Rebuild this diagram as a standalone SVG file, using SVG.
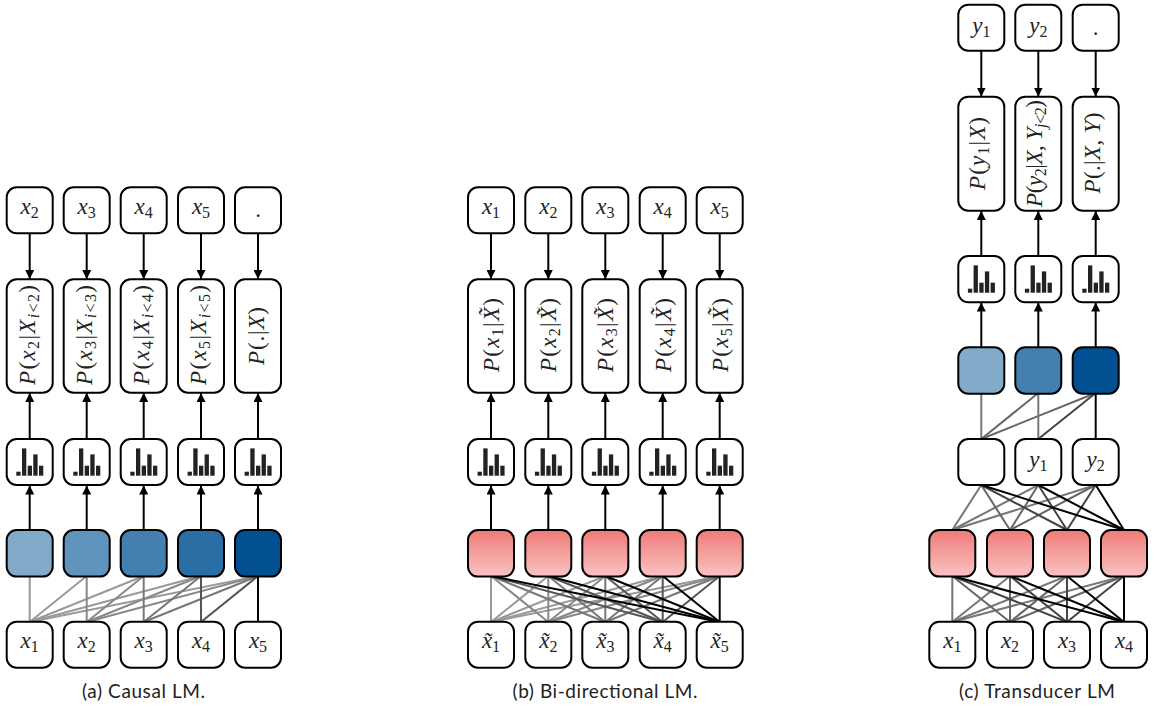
<svg xmlns="http://www.w3.org/2000/svg" width="1155" height="710" viewBox="0 0 1155 710">
<style>
.b{fill:#fff;stroke:#000;stroke-width:2}
.m{font-family:"Liberation Serif",serif;font-size:23px;fill:#222;text-anchor:middle}
.i{font-style:italic}
.s{font-size:16px}
.cap{font-family:"Lato",sans-serif;font-size:19px;fill:#222;text-anchor:middle}
.a{stroke:#000;fill:none}
#conn line{stroke-width:2}
.g1{stroke:#999}.g2{stroke:#888}.g3{stroke:#777}.g4{stroke:#555}.g5{stroke:#000}
.h1{stroke:#777}.h2{stroke:#666}.h3{stroke:#444}.h4{stroke:#000}
</style>
<defs>
<linearGradient id="red" x1="0" y1="0" x2="0" y2="1"><stop offset="0" stop-color="#ef7b78"/><stop offset="1" stop-color="#f9c4c3"/></linearGradient>
<marker id="ar" viewBox="0 0 8 8" refX="8" refY="4" markerWidth="9" markerHeight="9" markerUnits="userSpaceOnUse" orient="auto"><path d="M0,0L8,4L0,8Z" fill="#000"/></marker>
<g id="hist" fill="#222"><rect x="-13.4" y="32.7" width="4.3" height="4"/><rect x="-7.7" y="9.4" width="4.3" height="27.3"/><rect x="-2" y="26.7" width="4.3" height="10"/><rect x="3.6" y="15.4" width="4.3" height="21.3"/><rect x="9.3" y="26.7" width="4.3" height="10"/></g>
</defs>
<g id="conn">
<g class="g1"><line x1="29.7" y1="622" x2="29.7" y2="576"/><line x1="29.7" y1="622" x2="86.7" y2="576"/><line x1="29.7" y1="622" x2="143.7" y2="576"/><line x1="29.7" y1="622" x2="201" y2="576"/><line x1="29.7" y1="622" x2="258" y2="576"/></g>
<g class="g2"><line x1="86.7" y1="622" x2="86.7" y2="576"/><line x1="86.7" y1="622" x2="143.7" y2="576"/><line x1="86.7" y1="622" x2="201" y2="576"/><line x1="86.7" y1="622" x2="258" y2="576"/></g>
<g class="g3"><line x1="143.7" y1="622" x2="143.7" y2="576"/><line x1="143.7" y1="622" x2="201" y2="576"/><line x1="143.7" y1="622" x2="258" y2="576"/></g>
<g class="g4"><line x1="201" y1="622" x2="201" y2="576"/><line x1="201" y1="622" x2="258" y2="576"/></g>
<g class="g5"><line x1="258" y1="622" x2="258" y2="576"/></g>
<g class="a"><line x1="29.7" y1="530" x2="29.7" y2="485.5" marker-end="url(#ar)"/><line x1="86.7" y1="530" x2="86.7" y2="485.5" marker-end="url(#ar)"/><line x1="143.7" y1="530" x2="143.7" y2="485.5" marker-end="url(#ar)"/><line x1="201" y1="530" x2="201" y2="485.5" marker-end="url(#ar)"/><line x1="258" y1="530" x2="258" y2="485.5" marker-end="url(#ar)"/>
<line x1="29.7" y1="439" x2="29.7" y2="393" marker-end="url(#ar)"/><line x1="86.7" y1="439" x2="86.7" y2="393" marker-end="url(#ar)"/><line x1="143.7" y1="439" x2="143.7" y2="393" marker-end="url(#ar)"/><line x1="201" y1="439" x2="201" y2="393" marker-end="url(#ar)"/><line x1="258" y1="439" x2="258" y2="393" marker-end="url(#ar)"/>
<line x1="29.7" y1="233" x2="29.7" y2="279" marker-end="url(#ar)"/><line x1="86.7" y1="233" x2="86.7" y2="279" marker-end="url(#ar)"/><line x1="143.7" y1="233" x2="143.7" y2="279" marker-end="url(#ar)"/><line x1="201" y1="233" x2="201" y2="279" marker-end="url(#ar)"/><line x1="258" y1="233" x2="258" y2="279" marker-end="url(#ar)"/></g>
<g class="g1"><line x1="491" y1="622" x2="491" y2="576"/><line x1="491" y1="622" x2="548.3" y2="576"/><line x1="491" y1="622" x2="605.3" y2="576"/><line x1="491" y1="622" x2="662.7" y2="576"/><line x1="491" y1="622" x2="719.7" y2="576"/></g>
<g class="g2"><line x1="548.3" y1="622" x2="491" y2="576"/><line x1="548.3" y1="622" x2="548.3" y2="576"/><line x1="548.3" y1="622" x2="605.3" y2="576"/><line x1="548.3" y1="622" x2="662.7" y2="576"/><line x1="548.3" y1="622" x2="719.7" y2="576"/></g>
<g class="g3"><line x1="605.3" y1="622" x2="491" y2="576"/><line x1="605.3" y1="622" x2="548.3" y2="576"/><line x1="605.3" y1="622" x2="605.3" y2="576"/><line x1="605.3" y1="622" x2="662.7" y2="576"/><line x1="605.3" y1="622" x2="719.7" y2="576"/></g>
<g class="g4"><line x1="662.7" y1="622" x2="491" y2="576"/><line x1="662.7" y1="622" x2="548.3" y2="576"/><line x1="662.7" y1="622" x2="605.3" y2="576"/><line x1="662.7" y1="622" x2="662.7" y2="576"/><line x1="662.7" y1="622" x2="719.7" y2="576"/></g>
<g class="g5"><line x1="719.7" y1="622" x2="491" y2="576"/><line x1="719.7" y1="622" x2="548.3" y2="576"/><line x1="719.7" y1="622" x2="605.3" y2="576"/><line x1="719.7" y1="622" x2="662.7" y2="576"/><line x1="719.7" y1="622" x2="719.7" y2="576"/></g>
<g class="a"><line x1="491" y1="530" x2="491" y2="485.5" marker-end="url(#ar)"/><line x1="548.3" y1="530" x2="548.3" y2="485.5" marker-end="url(#ar)"/><line x1="605.3" y1="530" x2="605.3" y2="485.5" marker-end="url(#ar)"/><line x1="662.7" y1="530" x2="662.7" y2="485.5" marker-end="url(#ar)"/><line x1="719.7" y1="530" x2="719.7" y2="485.5" marker-end="url(#ar)"/>
<line x1="491" y1="439" x2="491" y2="393" marker-end="url(#ar)"/><line x1="548.3" y1="439" x2="548.3" y2="393" marker-end="url(#ar)"/><line x1="605.3" y1="439" x2="605.3" y2="393" marker-end="url(#ar)"/><line x1="662.7" y1="439" x2="662.7" y2="393" marker-end="url(#ar)"/><line x1="719.7" y1="439" x2="719.7" y2="393" marker-end="url(#ar)"/>
<line x1="491" y1="233" x2="491" y2="279" marker-end="url(#ar)"/><line x1="548.3" y1="233" x2="548.3" y2="279" marker-end="url(#ar)"/><line x1="605.3" y1="233" x2="605.3" y2="279" marker-end="url(#ar)"/><line x1="662.7" y1="233" x2="662.7" y2="279" marker-end="url(#ar)"/><line x1="719.7" y1="233" x2="719.7" y2="279" marker-end="url(#ar)"/></g>
<g class="h1"><line x1="952.3" y1="622" x2="952.3" y2="576"/><line x1="952.3" y1="622" x2="1010" y2="576"/><line x1="952.3" y1="622" x2="1067" y2="576"/><line x1="952.3" y1="622" x2="1124" y2="576"/></g>
<g class="h2"><line x1="1010" y1="622" x2="952.3" y2="576"/><line x1="1010" y1="622" x2="1010" y2="576"/><line x1="1010" y1="622" x2="1067" y2="576"/><line x1="1010" y1="622" x2="1124" y2="576"/></g>
<g class="h3"><line x1="1067" y1="622" x2="952.3" y2="576"/><line x1="1067" y1="622" x2="1010" y2="576"/><line x1="1067" y1="622" x2="1067" y2="576"/><line x1="1067" y1="622" x2="1124" y2="576"/></g>
<g class="h4"><line x1="1124" y1="622" x2="952.3" y2="576"/><line x1="1124" y1="622" x2="1010" y2="576"/><line x1="1124" y1="622" x2="1067" y2="576"/><line x1="1124" y1="622" x2="1124" y2="576"/></g>
<g class="h1"><line x1="952.3" y1="530" x2="981.3" y2="485"/><line x1="952.3" y1="530" x2="1038.3" y2="485"/><line x1="952.3" y1="530" x2="1095.7" y2="485"/></g>
<g class="h2"><line x1="1010" y1="530" x2="981.3" y2="485"/><line x1="1010" y1="530" x2="1038.3" y2="485"/><line x1="1010" y1="530" x2="1095.7" y2="485"/></g>
<g class="h3"><line x1="1067" y1="530" x2="981.3" y2="485"/><line x1="1067" y1="530" x2="1038.3" y2="485"/><line x1="1067" y1="530" x2="1095.7" y2="485"/></g>
<g class="h4"><line x1="1124" y1="530" x2="981.3" y2="485"/><line x1="1124" y1="530" x2="1038.3" y2="485"/><line x1="1124" y1="530" x2="1095.7" y2="485"/></g>
<g class="h1"><line x1="981.3" y1="439" x2="981.3" y2="393"/></g>
<g class="h2"><line x1="981.3" y1="439" x2="1038.3" y2="393"/><line x1="981.3" y1="439" x2="1095.7" y2="393"/></g>
<g class="h1"><line x1="1038.3" y1="439" x2="1038.3" y2="393"/></g>
<g class="h3"><line x1="1038.3" y1="439" x2="1095.7" y2="393"/></g>
<g class="h4"><line x1="1095.7" y1="439" x2="1095.7" y2="393"/></g>
<g class="a"><line x1="981.3" y1="347.5" x2="981.3" y2="302.5" marker-end="url(#ar)"/><line x1="1038.3" y1="347.5" x2="1038.3" y2="302.5" marker-end="url(#ar)"/><line x1="1095.7" y1="347.5" x2="1095.7" y2="302.5" marker-end="url(#ar)"/>
<line x1="981.3" y1="256" x2="981.3" y2="211" marker-end="url(#ar)"/><line x1="1038.3" y1="256" x2="1038.3" y2="211" marker-end="url(#ar)"/><line x1="1095.7" y1="256" x2="1095.7" y2="211" marker-end="url(#ar)"/>
<line x1="981.3" y1="50.5" x2="981.3" y2="96.5" marker-end="url(#ar)"/><line x1="1038.3" y1="50.5" x2="1038.3" y2="96.5" marker-end="url(#ar)"/><line x1="1095.7" y1="50.5" x2="1095.7" y2="96.5" marker-end="url(#ar)"/></g>
</g>
<g id="a-out1"><rect class="b" x="6.7" y="187.3" width="46" height="46" rx="10"/><text class="m" x="29.7" y="214"><tspan class="i">x</tspan><tspan class="s" dy="4">2</tspan></text></g>
<g id="a-out2"><rect class="b" x="63.7" y="187.3" width="46" height="46" rx="10"/><text class="m" x="86.7" y="214"><tspan class="i">x</tspan><tspan class="s" dy="4">3</tspan></text></g>
<g id="a-out3"><rect class="b" x="120.7" y="187.3" width="46" height="46" rx="10"/><text class="m" x="143.7" y="214"><tspan class="i">x</tspan><tspan class="s" dy="4">4</tspan></text></g>
<g id="a-out4"><rect class="b" x="178" y="187.3" width="46" height="46" rx="10"/><text class="m" x="201" y="214"><tspan class="i">x</tspan><tspan class="s" dy="4">5</tspan></text></g>
<g id="a-out5"><rect class="b" x="235" y="187.3" width="46" height="46" rx="10"/><text class="m" x="258" y="217">.</text></g>
<g id="a-p1"><rect class="b" x="6.7" y="279.3" width="46" height="113.4" rx="10"/><text class="m" transform="translate(35,335) rotate(-90)" textLength="100"><tspan class="i">P</tspan>(<tspan class="i">x</tspan><tspan class="s" dy="4">2</tspan><tspan dy="-4">|</tspan><tspan class="i">X</tspan><tspan class="s i" dy="4">i</tspan><tspan class="s">&lt;2</tspan><tspan dy="-4">)</tspan></text></g>
<g id="a-p2"><rect class="b" x="63.7" y="279.3" width="46" height="113.4" rx="10"/><text class="m" transform="translate(92,335) rotate(-90)" textLength="100"><tspan class="i">P</tspan>(<tspan class="i">x</tspan><tspan class="s" dy="4">3</tspan><tspan dy="-4">|</tspan><tspan class="i">X</tspan><tspan class="s i" dy="4">i</tspan><tspan class="s">&lt;3</tspan><tspan dy="-4">)</tspan></text></g>
<g id="a-p3"><rect class="b" x="120.7" y="279.3" width="46" height="113.4" rx="10"/><text class="m" transform="translate(149,335) rotate(-90)" textLength="100"><tspan class="i">P</tspan>(<tspan class="i">x</tspan><tspan class="s" dy="4">4</tspan><tspan dy="-4">|</tspan><tspan class="i">X</tspan><tspan class="s i" dy="4">i</tspan><tspan class="s">&lt;4</tspan><tspan dy="-4">)</tspan></text></g>
<g id="a-p4"><rect class="b" x="178" y="279.3" width="46" height="113.4" rx="10"/><text class="m" transform="translate(206.3,335) rotate(-90)" textLength="100"><tspan class="i">P</tspan>(<tspan class="i">x</tspan><tspan class="s" dy="4">5</tspan><tspan dy="-4">|</tspan><tspan class="i">X</tspan><tspan class="s i" dy="4">i</tspan><tspan class="s">&lt;5</tspan><tspan dy="-4">)</tspan></text></g>
<g id="a-p5"><rect class="b" x="235" y="279.3" width="46" height="113.4" rx="10"/><text class="m" transform="translate(263.5,336) rotate(-90)" textLength="58"><tspan class="i">P</tspan>(.|<tspan class="i">X</tspan>)</text></g>
<g id="a-h1"><rect class="b" x="6.7" y="439" width="46" height="46" rx="10"/><use href="#hist" x="29.7" y="439"/></g>
<g id="a-h2"><rect class="b" x="63.7" y="439" width="46" height="46" rx="10"/><use href="#hist" x="86.7" y="439"/></g>
<g id="a-h3"><rect class="b" x="120.7" y="439" width="46" height="46" rx="10"/><use href="#hist" x="143.7" y="439"/></g>
<g id="a-h4"><rect class="b" x="178" y="439" width="46" height="46" rx="10"/><use href="#hist" x="201" y="439"/></g>
<g id="a-h5"><rect class="b" x="235" y="439" width="46" height="46" rx="10"/><use href="#hist" x="258" y="439"/></g>
<g id="a-c1"><rect class="b" style="fill:#82abc9" x="6.7" y="530" width="46" height="46.6" rx="10"/></g>
<g id="a-c2"><rect class="b" style="fill:#5f94bd" x="63.7" y="530" width="46" height="46.6" rx="10"/></g>
<g id="a-c3"><rect class="b" style="fill:#447fb0" x="120.7" y="530" width="46" height="46.6" rx="10"/></g>
<g id="a-c4"><rect class="b" style="fill:#2b6da5" x="178" y="530" width="46" height="46.6" rx="10"/></g>
<g id="a-c5"><rect class="b" style="fill:#024f91" x="235" y="530" width="46" height="46.6" rx="10"/></g>
<g id="a-in1"><rect class="b" x="6.7" y="621.7" width="46" height="46" rx="10"/><text class="m" x="29.7" y="648"><tspan class="i">x</tspan><tspan class="s" dy="4">1</tspan></text></g>
<g id="a-in2"><rect class="b" x="63.7" y="621.7" width="46" height="46" rx="10"/><text class="m" x="86.7" y="648"><tspan class="i">x</tspan><tspan class="s" dy="4">2</tspan></text></g>
<g id="a-in3"><rect class="b" x="120.7" y="621.7" width="46" height="46" rx="10"/><text class="m" x="143.7" y="648"><tspan class="i">x</tspan><tspan class="s" dy="4">3</tspan></text></g>
<g id="a-in4"><rect class="b" x="178" y="621.7" width="46" height="46" rx="10"/><text class="m" x="201" y="648"><tspan class="i">x</tspan><tspan class="s" dy="4">4</tspan></text></g>
<g id="a-in5"><rect class="b" x="235" y="621.7" width="46" height="46" rx="10"/><text class="m" x="258" y="648"><tspan class="i">x</tspan><tspan class="s" dy="4">5</tspan></text></g>
<text class="cap" x="143.5" y="698" textLength="123">(a) Causal LM.</text>
<g id="b-out1"><rect class="b" x="468" y="187.3" width="46" height="46" rx="10"/><text class="m" x="491" y="214"><tspan class="i">x</tspan><tspan class="s" dy="4">1</tspan></text></g>
<g id="b-out2"><rect class="b" x="525.3" y="187.3" width="46" height="46" rx="10"/><text class="m" x="548.3" y="214"><tspan class="i">x</tspan><tspan class="s" dy="4">2</tspan></text></g>
<g id="b-out3"><rect class="b" x="582.3" y="187.3" width="46" height="46" rx="10"/><text class="m" x="605.3" y="214"><tspan class="i">x</tspan><tspan class="s" dy="4">3</tspan></text></g>
<g id="b-out4"><rect class="b" x="639.7" y="187.3" width="46" height="46" rx="10"/><text class="m" x="662.7" y="214"><tspan class="i">x</tspan><tspan class="s" dy="4">4</tspan></text></g>
<g id="b-out5"><rect class="b" x="696.7" y="187.3" width="46" height="46" rx="10"/><text class="m" x="719.7" y="214"><tspan class="i">x</tspan><tspan class="s" dy="4">5</tspan></text></g>
<g id="b-p1"><rect class="b" x="468" y="279.3" width="46" height="113.4" rx="10"/><text class="m" transform="translate(499,335) rotate(-90)" textLength="74"><tspan class="i">P</tspan>(<tspan class="i">x</tspan><tspan class="s" dy="4">1</tspan><tspan dy="-4">|</tspan><tspan class="i">X̃</tspan>)</text></g>
<g id="b-p2"><rect class="b" x="525.3" y="279.3" width="46" height="113.4" rx="10"/><text class="m" transform="translate(556.3,335) rotate(-90)" textLength="74"><tspan class="i">P</tspan>(<tspan class="i">x</tspan><tspan class="s" dy="4">2</tspan><tspan dy="-4">|</tspan><tspan class="i">X̃</tspan>)</text></g>
<g id="b-p3"><rect class="b" x="582.3" y="279.3" width="46" height="113.4" rx="10"/><text class="m" transform="translate(613.3,335) rotate(-90)" textLength="74"><tspan class="i">P</tspan>(<tspan class="i">x</tspan><tspan class="s" dy="4">3</tspan><tspan dy="-4">|</tspan><tspan class="i">X̃</tspan>)</text></g>
<g id="b-p4"><rect class="b" x="639.7" y="279.3" width="46" height="113.4" rx="10"/><text class="m" transform="translate(670.7,335) rotate(-90)" textLength="74"><tspan class="i">P</tspan>(<tspan class="i">x</tspan><tspan class="s" dy="4">4</tspan><tspan dy="-4">|</tspan><tspan class="i">X̃</tspan>)</text></g>
<g id="b-p5"><rect class="b" x="696.7" y="279.3" width="46" height="113.4" rx="10"/><text class="m" transform="translate(727.7,335) rotate(-90)" textLength="74"><tspan class="i">P</tspan>(<tspan class="i">x</tspan><tspan class="s" dy="4">5</tspan><tspan dy="-4">|</tspan><tspan class="i">X̃</tspan>)</text></g>
<g id="b-h1"><rect class="b" x="468" y="439" width="46" height="46" rx="10"/><use href="#hist" x="491" y="439"/></g>
<g id="b-h2"><rect class="b" x="525.3" y="439" width="46" height="46" rx="10"/><use href="#hist" x="548.3" y="439"/></g>
<g id="b-h3"><rect class="b" x="582.3" y="439" width="46" height="46" rx="10"/><use href="#hist" x="605.3" y="439"/></g>
<g id="b-h4"><rect class="b" x="639.7" y="439" width="46" height="46" rx="10"/><use href="#hist" x="662.7" y="439"/></g>
<g id="b-h5"><rect class="b" x="696.7" y="439" width="46" height="46" rx="10"/><use href="#hist" x="719.7" y="439"/></g>
<g id="b-c1"><rect class="b" style="fill:url(#red)" x="468" y="530" width="46" height="46.6" rx="10"/></g>
<g id="b-c2"><rect class="b" style="fill:url(#red)" x="525.3" y="530" width="46" height="46.6" rx="10"/></g>
<g id="b-c3"><rect class="b" style="fill:url(#red)" x="582.3" y="530" width="46" height="46.6" rx="10"/></g>
<g id="b-c4"><rect class="b" style="fill:url(#red)" x="639.7" y="530" width="46" height="46.6" rx="10"/></g>
<g id="b-c5"><rect class="b" style="fill:url(#red)" x="696.7" y="530" width="46" height="46.6" rx="10"/></g>
<g id="b-in1"><rect class="b" x="468" y="621.7" width="46" height="46" rx="10"/><text class="m" x="491" y="648"><tspan class="i">x̃</tspan><tspan class="s" dy="4">1</tspan></text></g>
<g id="b-in2"><rect class="b" x="525.3" y="621.7" width="46" height="46" rx="10"/><text class="m" x="548.3" y="648"><tspan class="i">x̃</tspan><tspan class="s" dy="4">2</tspan></text></g>
<g id="b-in3"><rect class="b" x="582.3" y="621.7" width="46" height="46" rx="10"/><text class="m" x="605.3" y="648"><tspan class="i">x̃</tspan><tspan class="s" dy="4">3</tspan></text></g>
<g id="b-in4"><rect class="b" x="639.7" y="621.7" width="46" height="46" rx="10"/><text class="m" x="662.7" y="648"><tspan class="i">x̃</tspan><tspan class="s" dy="4">4</tspan></text></g>
<g id="b-in5"><rect class="b" x="696.7" y="621.7" width="46" height="46" rx="10"/><text class="m" x="719.7" y="648"><tspan class="i">x̃</tspan><tspan class="s" dy="4">5</tspan></text></g>
<text class="cap" x="605" y="698" textLength="185">(b) Bi-directional LM.</text>
<g id="c-out1"><rect class="b" x="958.3" y="4.7" width="46" height="46" rx="10"/><text class="m" x="981.3" y="33"><tspan class="i">y</tspan><tspan class="s" dy="4">1</tspan></text></g>
<g id="c-out2"><rect class="b" x="1015.3" y="4.7" width="46" height="46" rx="10"/><text class="m" x="1038.3" y="33"><tspan class="i">y</tspan><tspan class="s" dy="4">2</tspan></text></g>
<g id="c-out3"><rect class="b" x="1072.7" y="4.7" width="46" height="46" rx="10"/><text class="m" x="1095.7" y="35">.</text></g>
<g id="c-p1"><rect class="b" x="958.3" y="96.7" width="46" height="114" rx="10"/><text class="m" transform="translate(985,153.5) rotate(-90)" textLength="73"><tspan class="i">P</tspan>(<tspan class="i">y</tspan><tspan class="s" dy="4">1</tspan><tspan dy="-4">|</tspan><tspan class="i">X</tspan>)</text></g>
<g id="c-p2"><rect class="b" x="1015.3" y="96.7" width="46" height="114" rx="10"/><text class="m" transform="translate(1042,153.5) rotate(-90)" textLength="107"><tspan class="i">P</tspan>(<tspan class="i">y</tspan><tspan class="s" dy="4">2</tspan><tspan dy="-4">|</tspan><tspan class="i">X</tspan>, <tspan class="i">Y</tspan><tspan class="s i" dy="4">j</tspan><tspan class="s">&lt;2</tspan><tspan dy="-4">)</tspan></text></g>
<g id="c-p3"><rect class="b" x="1072.7" y="96.7" width="46" height="114" rx="10"/><text class="m" transform="translate(1099.5,153) rotate(-90)" textLength="81"><tspan class="i">P</tspan>(.|<tspan class="i">X</tspan>, <tspan class="i">Y</tspan>)</text></g>
<g id="c-h1"><rect class="b" x="958.3" y="256" width="46" height="46.3" rx="10"/><use href="#hist" x="981.3" y="256"/></g>
<g id="c-h2"><rect class="b" x="1015.3" y="256" width="46" height="46.3" rx="10"/><use href="#hist" x="1038.3" y="256"/></g>
<g id="c-h3"><rect class="b" x="1072.7" y="256" width="46" height="46.3" rx="10"/><use href="#hist" x="1095.7" y="256"/></g>
<g id="c-b1"><rect class="b" style="fill:#82abc9" x="958.3" y="347.3" width="46" height="46.4" rx="10"/></g>
<g id="c-b2"><rect class="b" style="fill:#447fb0" x="1015.3" y="347.3" width="46" height="46.4" rx="10"/></g>
<g id="c-b3"><rect class="b" style="fill:#024f91" x="1072.7" y="347.3" width="46" height="46.4" rx="10"/></g>
<g id="c-m1"><rect class="b" x="958.3" y="439" width="46" height="46" rx="10"/></g>
<g id="c-m2"><rect class="b" x="1015.3" y="439" width="46" height="46" rx="10"/><text class="m" x="1038.3" y="466.5"><tspan class="i">y</tspan><tspan class="s" dy="4">1</tspan></text></g>
<g id="c-m3"><rect class="b" x="1072.7" y="439" width="46" height="46" rx="10"/><text class="m" x="1095.7" y="466.5"><tspan class="i">y</tspan><tspan class="s" dy="4">2</tspan></text></g>
<g id="c-r1"><rect class="b" style="fill:url(#red)" x="929.3" y="530" width="46" height="46.6" rx="10"/></g>
<g id="c-r2"><rect class="b" style="fill:url(#red)" x="987" y="530" width="46" height="46.6" rx="10"/></g>
<g id="c-r3"><rect class="b" style="fill:url(#red)" x="1044" y="530" width="46" height="46.6" rx="10"/></g>
<g id="c-r4"><rect class="b" style="fill:url(#red)" x="1101" y="530" width="46" height="46.6" rx="10"/></g>
<g id="c-in1"><rect class="b" x="929.3" y="621.7" width="46" height="46" rx="10"/><text class="m" x="952.3" y="648"><tspan class="i">x</tspan><tspan class="s" dy="4">1</tspan></text></g>
<g id="c-in2"><rect class="b" x="987" y="621.7" width="46" height="46" rx="10"/><text class="m" x="1010" y="648"><tspan class="i">x</tspan><tspan class="s" dy="4">2</tspan></text></g>
<g id="c-in3"><rect class="b" x="1044" y="621.7" width="46" height="46" rx="10"/><text class="m" x="1067" y="648"><tspan class="i">x</tspan><tspan class="s" dy="4">3</tspan></text></g>
<g id="c-in4"><rect class="b" x="1101" y="621.7" width="46" height="46" rx="10"/><text class="m" x="1124" y="648"><tspan class="i">x</tspan><tspan class="s" dy="4">4</tspan></text></g>
<text class="cap" x="1037" y="698" textLength="156">(c) Transducer LM</text>
</svg>
